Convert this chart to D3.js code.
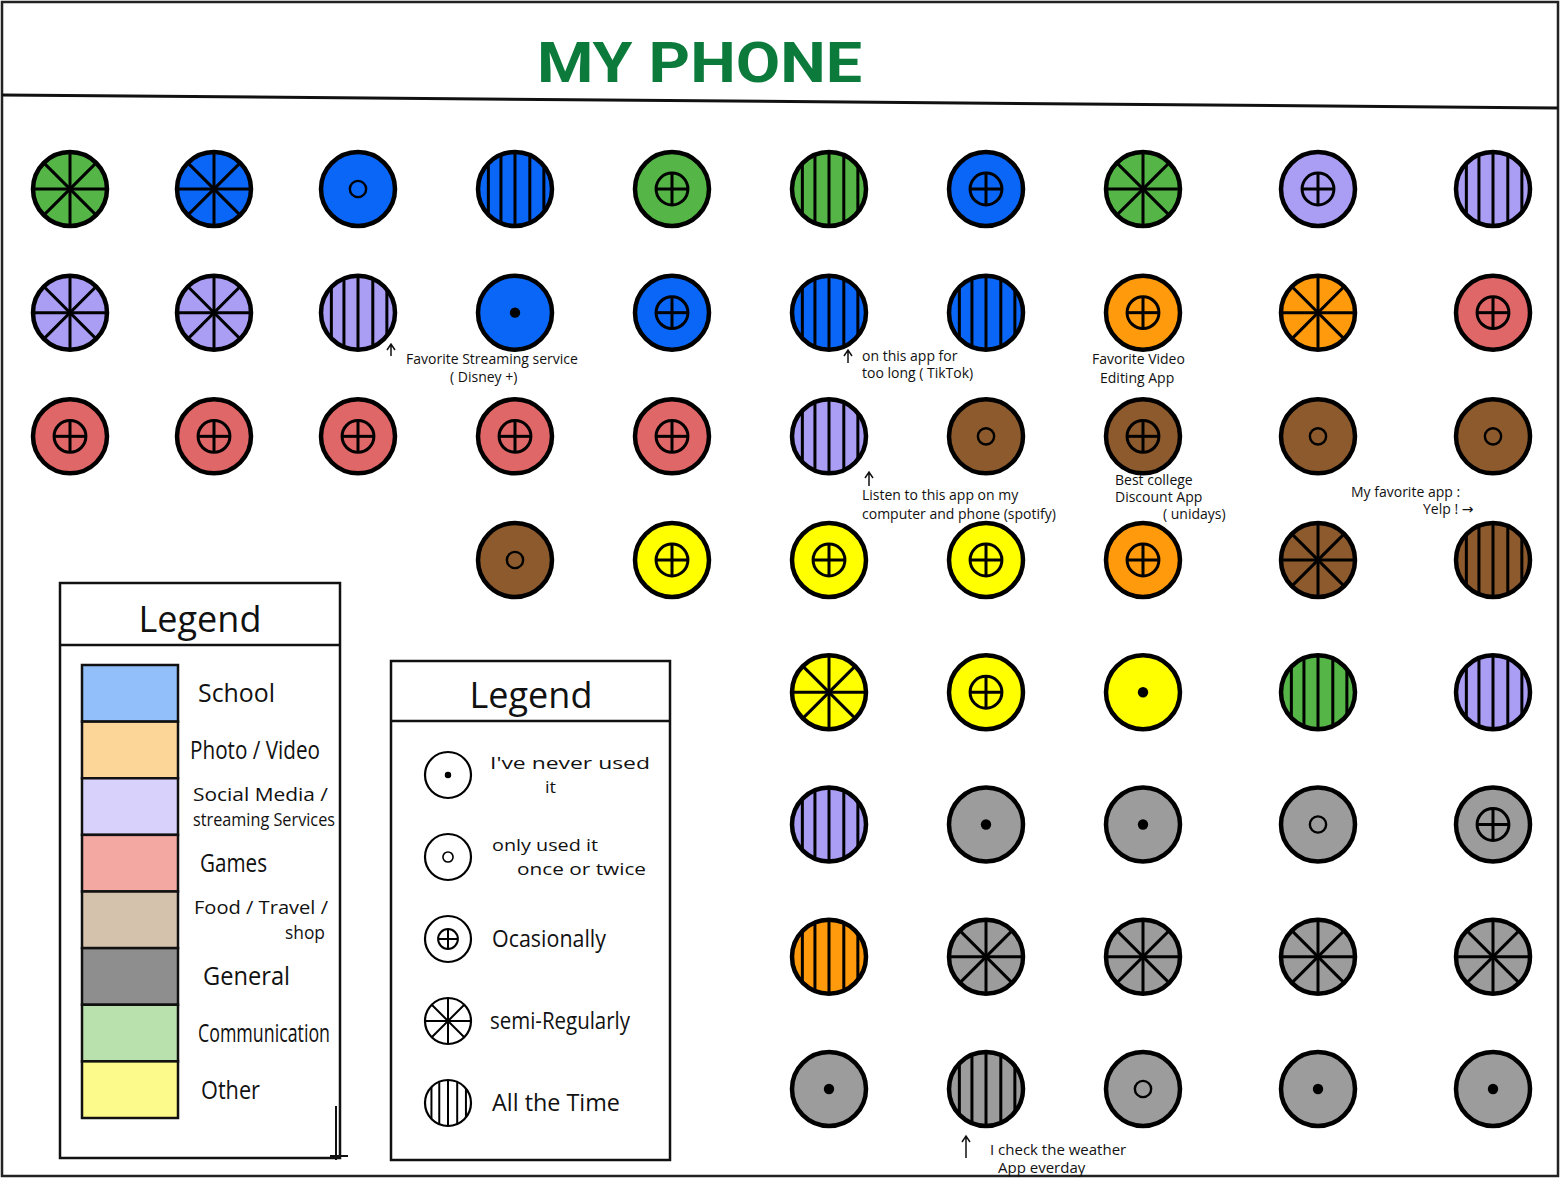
<!DOCTYPE html>
<html>
<head>
<meta charset="utf-8">
<script src="https://cdn.jsdelivr.net/npm/d3@7"></script>
<style>
  html, body { margin: 0; padding: 0; background: #fff; }
  svg { display: block; }
  text { font-family: "Open Sans", "DejaVu Sans", sans-serif; fill: #111; }
</style>
</head>
<body>
<svg id="chart" width="1562" height="1191"></svg>
<script>
// ---------------- DATA ----------------
const categories = ["School", "Photo/Video", "Social Media/Streaming Services", "Games",
                    "Food/Travel/Shop", "General", "Communication", "Other"];
const categoryLabels = [["School"], ["Photo / Video"], ["Social Media /", "streaming Services"], ["Games"],
                        ["Food / Travel /", "shop"], ["General"], ["Communication"], ["Other"]];
const usageLevels = ["never", "once", "occasionally", "semi", "all"];
const usageLabels = [["I've  never used", "it"], ["only used it", "once or twice"], ["Ocasionally"],
                     ["semi-Regularly"], ["All the Time"]];

// each app: grid row, grid column, category, usage
const appRow = [1,1,1,1,1,1,1,1,1,1,
                2,2,2,2,2,2,2,2,2,2,
                3,3,3,3,3,3,3,3,3,3,
                4,4,4,4,4,4,4,
                5,5,5,5,5,
                6,6,6,6,6,
                7,7,7,7,7,
                8,8,8,8,8];
const appCol = [1,2,3,4,5,6,7,8,9,10,
                1,2,3,4,5,6,7,8,9,10,
                1,2,3,4,5,6,7,8,9,10,
                4,5,6,7,8,9,10,
                6,7,8,9,10,
                6,7,8,9,10,
                6,7,8,9,10,
                6,7,8,9,10];
const appCategory = [
  "Communication","School","School","School","Communication","Communication","School","Communication","Social Media/Streaming Services","Social Media/Streaming Services",
  "Social Media/Streaming Services","Social Media/Streaming Services","Social Media/Streaming Services","School","School","School","School","Photo/Video","Photo/Video","Games",
  "Games","Games","Games","Games","Games","Social Media/Streaming Services","Food/Travel/Shop","Food/Travel/Shop","Food/Travel/Shop","Food/Travel/Shop",
  "Food/Travel/Shop","Other","Other","Other","Photo/Video","Food/Travel/Shop","Food/Travel/Shop",
  "Other","Other","Other","Communication","Social Media/Streaming Services",
  "Social Media/Streaming Services","General","General","General","General",
  "Photo/Video","General","General","General","General",
  "General","General","General","General","General"];
const appUsage = [
  "semi","semi","once","all","occasionally","all","occasionally","semi","occasionally","all",
  "semi","semi","all","never","occasionally","all","all","occasionally","semi","occasionally",
  "occasionally","occasionally","occasionally","occasionally","occasionally","all","once","occasionally","once","once",
  "once","occasionally","occasionally","occasionally","occasionally","semi","all",
  "semi","occasionally","never","all","all",
  "all","never","never","once","occasionally",
  "all","semi","semi","semi","semi",
  "never","all","once","never","never"];

const noteText = [
  ["Favorite  Streaming  service", "( Disney +)"],
  ["on this  app  for", "too  long  ( TikTok)"],
  ["Favorite  Video", "Editing  App"],
  ["Listen  to  this  app  on  my", "computer  and  phone  (spotify)"],
  ["Best  college", "Discount  App", "( unidays)"],
  ["My  favorite  app :", "Yelp ! \u2192"],
  ["I  check  the  weather", "App  everday"]
];

// ---------------- STYLES / SCALES ----------------
const svg = d3.select("#chart");

const circleColor = d3.scaleOrdinal().domain(categories)
  .range(["#0a66f7", "#ff9a0c", "#a99ef4", "#e06767", "#8c5a2c", "#9c9c9c", "#55b547", "#ffff00"]);
const swatchColor = d3.scaleOrdinal().domain(categories)
  .range(["#92bffa", "#fcd699", "#d8d1fb", "#f3a9a1", "#d4c2ad", "#8e8e8e", "#b8e1ae", "#fdfa8c"]);

const xCol = d3.scaleLinear().domain([1, 3, 8, 10]).range([70, 358, 1143, 1493]);
const yRow = d3.scaleLinear().domain([1, 4, 8]).range([189, 560, 1089]);
const R = 37;

// ---------------- FRAME ----------------
svg.append("rect").attr("x", 2).attr("y", 2).attr("width", 1556).attr("height", 1174)
  .attr("fill", "none").attr("stroke", "#222").attr("stroke-width", 2.5);
svg.append("line").attr("x1", 2).attr("y1", 95).attr("x2", 1558).attr("y2", 108)
  .attr("stroke", "#111").attr("stroke-width", 3);

svg.append("text").attr("x", 537).attr("y", 82)
  .attr("textLength", 325).attr("lengthAdjust", "spacingAndGlyphs")
  .style("font-family", "Roboto, sans-serif").style("font-weight", 700)
  .style("font-size", "56px").style("fill", "#0b7a3b")
  .text("MY PHONE");

// ---------------- SYMBOLS ----------------
function drawSymbol(g, usage, r, sw) {
  if (usage === "never") {
    g.append("circle").attr("r", r * 0.14).attr("fill", "#000");
  } else if (usage === "once") {
    g.append("circle").attr("r", r * 0.22).attr("fill", "none").attr("stroke", "#000").attr("stroke-width", sw * 0.8);
  } else if (usage === "occasionally") {
    const rr = r * 0.43;
    g.append("circle").attr("r", rr).attr("fill", "none").attr("stroke", "#000").attr("stroke-width", sw);
    g.append("line").attr("x1", -rr).attr("x2", rr).attr("stroke", "#000").attr("stroke-width", sw);
    g.append("line").attr("y1", -rr).attr("y2", rr).attr("stroke", "#000").attr("stroke-width", sw);
  } else if (usage === "semi") {
    [0, 45, 90, 135].forEach(a => {
      const t = a * Math.PI / 180;
      g.append("line")
        .attr("x1", -Math.cos(t) * r).attr("y1", -Math.sin(t) * r)
        .attr("x2", Math.cos(t) * r).attr("y2", Math.sin(t) * r)
        .attr("stroke", "#000").attr("stroke-width", sw);
    });
  } else if (usage === "all") {
    [-0.72, -0.38, 0, 0.4, 0.78].forEach(f => {
      const x = f * r;
      const h = Math.sqrt(Math.max(0, r * r - x * x));
      g.append("line").attr("x1", x).attr("x2", x).attr("y1", -h).attr("y2", h)
        .attr("stroke", "#000").attr("stroke-width", sw);
    });
  }
}

const apps = appRow.map((row, i) => ({ row, col: appCol[i], cat: appCategory[i], usage: appUsage[i] }));

const appG = svg.append("g").selectAll("g.app").data(apps).join("g")
  .attr("class", "app")
  .attr("transform", d => `translate(${xCol(d.col)},${yRow(d.row)})`);

appG.each(function (d) {
  const g = d3.select(this);
  g.append("circle").attr("r", R).attr("fill", circleColor(d.cat));
  drawSymbol(g, d.usage, R, 3);
  g.append("circle").attr("r", R).attr("fill", "none").attr("stroke", "#000").attr("stroke-width", 4.5);
});

// ---------------- ANNOTATIONS ----------------
const notes = svg.append("g");
function note(lines, x, y, dxs, lh, fs) {
  lines.forEach((t, i) => {
    notes.append("text").attr("x", x + (dxs[i] || 0)).attr("y", y + i * lh)
      .style("font-size", (fs || 14) + "px").text(t);
  });
}
function arrowUp(x, y1, y2) {
  notes.append("path").attr("d", `M${x},${y2} L${x},${y1} M${x - 4},${y1 + 6} L${x},${y1} L${x + 4},${y1 + 6}`)
    .attr("fill", "none").attr("stroke", "#111").attr("stroke-width", 1.5);
}
arrowUp(391, 344, 356);
note(noteText[0], 406, 364, [0, 44], 18);
arrowUp(848, 350, 363);
note(noteText[1], 862, 361, [0, 0], 17);
note(noteText[2], 1092, 364, [0, 8], 19);
arrowUp(869, 472, 486);
note(noteText[3], 862, 500, [0, 0], 19);
note(noteText[4], 1115, 485, [0, 0, 48], 17);
note(noteText[5], 1351, 497, [0, 72], 17);
arrowUp(966, 1136, 1158);
note(noteText[6], 990, 1155, [0, 8], 18, 15);

// ---------------- LEGEND 1 (categories) ----------------
const L1 = svg.append("g");
L1.append("rect").attr("x", 60).attr("y", 583).attr("width", 280).attr("height", 575)
  .attr("fill", "none").attr("stroke", "#111").attr("stroke-width", 2.5);
L1.append("line").attr("x1", 60).attr("x2", 340).attr("y1", 645).attr("y2", 645)
  .attr("stroke", "#111").attr("stroke-width", 2.5);
L1.append("line").attr("x1", 336).attr("x2", 336).attr("y1", 1106).attr("y2", 1160)
  .attr("stroke", "#111").attr("stroke-width", 2);
L1.append("line").attr("x1", 330).attr("x2", 348).attr("y1", 1156).attr("y2", 1156)
  .attr("stroke", "#111").attr("stroke-width", 2);
L1.append("text").attr("x", 200).attr("y", 632).attr("text-anchor", "middle")
  .style("font-size", "36px").text("Legend");

const yCat = d3.scaleBand().domain(categories).range([665, 1118]);
L1.selectAll("rect.sw").data(categories).join("rect").attr("class", "sw")
  .attr("x", 82).attr("width", 96)
  .attr("y", d => yCat(d)).attr("height", yCat.bandwidth())
  .attr("fill", d => swatchColor(d)).attr("stroke", "#111").attr("stroke-width", 2.5);

// label layout: [x, width] per line
const catLayout = [
  [[198, 77]], [[190, 130]], [[193, 135], [193, 142]], [[200, 67]],
  [[194, 134], [285, 40]], [[203, 87]], [[198, 132]], [[201, 59]]
];
categories.forEach((c, i) => {
  const lines = categoryLabels[i];
  const cy = yCat(c) + yCat.bandwidth() / 2;
  const fs = lines.length > 1 ? 18 : 25;
  lines.forEach((t, j) => {
    const off = lines.length > 1 ? (j - 0.5) * 25 : 0;
    L1.append("text")
      .attr("x", catLayout[i][j][0])
      .attr("y", cy + off + fs * 0.36)
      .attr("textLength", catLayout[i][j][1]).attr("lengthAdjust", "spacingAndGlyphs")
      .style("font-size", fs + "px")
      .text(t);
  });
});

// ---------------- LEGEND 2 (usage) ----------------
const L2 = svg.append("g");
L2.append("rect").attr("x", 391).attr("y", 661).attr("width", 279).attr("height", 499)
  .attr("fill", "none").attr("stroke", "#111").attr("stroke-width", 2.5);
L2.append("line").attr("x1", 391).attr("x2", 670).attr("y1", 721).attr("y2", 721)
  .attr("stroke", "#111").attr("stroke-width", 2.5);
L2.append("text").attr("x", 531).attr("y", 708).attr("text-anchor", "middle")
  .style("font-size", "36px").text("Legend");

const useLayout = [
  [[490, 160], [545, 11]], [[492, 106], [517, 129]], [[492, 114]], [[490, 140]], [[492, 128]]
];
const yUse = d3.scalePoint().domain(usageLevels).range([775, 1103]);
usageLevels.forEach((u, i) => {
  const g = L2.append("g").attr("transform", `translate(448,${yUse(u)})`);
  g.append("circle").attr("r", 23).attr("fill", "#fff");
  drawSymbol(g, u, 23, 2);
  g.append("circle").attr("r", 23).attr("fill", "none").attr("stroke", "#000").attr("stroke-width", 2.2);
  const lines = usageLabels[i];
  lines.forEach((t, j) => {
    const fs = lines.length > 1 ? 17 : 23;
    const off = lines.length > 1 ? (j - 0.5) * 24 : 0;
    L2.append("text")
      .attr("x", useLayout[i][j][0])
      .attr("y", yUse(u) + off + fs * 0.36)
      .attr("textLength", useLayout[i][j][1]).attr("lengthAdjust", "spacingAndGlyphs")
      .style("font-size", fs + "px")
      .text(t);
  });
});
</script>
</body>
</html>
